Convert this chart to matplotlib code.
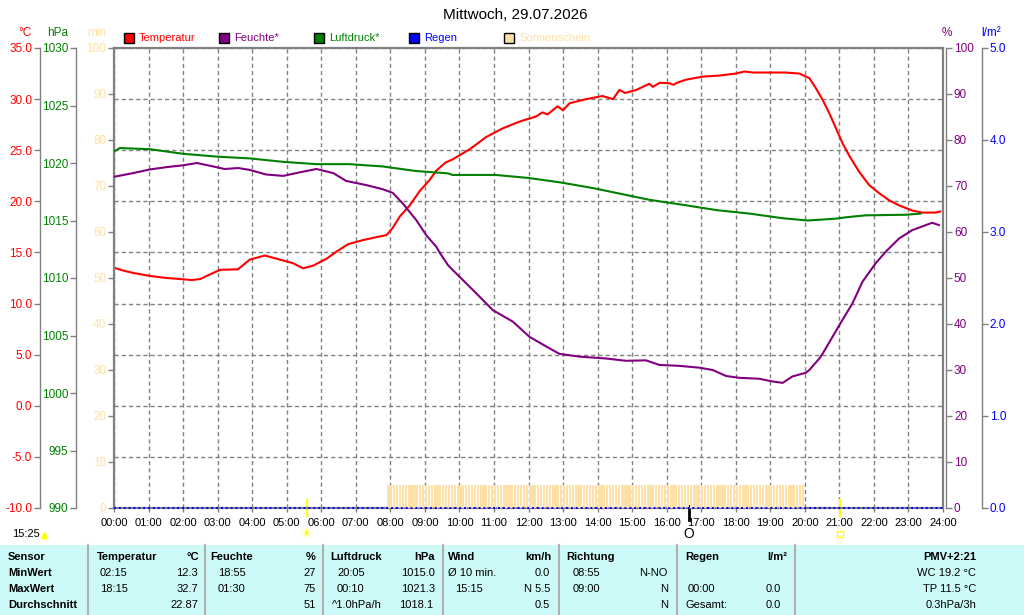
import matplotlib
matplotlib.use("Agg")
import matplotlib.pyplot as plt
import matplotlib.transforms as mtransforms
from matplotlib.patches import Rectangle

plt.rcParams['font.family'] = ['Liberation Sans', 'DejaVu Sans']

# ---- data ----
temp_h = [0.0, 0.3, 0.55, 1.04, 1.52, 1.91, 2.25, 2.5, 2.68, 3.07, 3.59, 3.93, 4.37,
          4.8, 5.18, 5.47, 5.76, 6.16, 6.45, 6.77, 7.2, 7.6, 7.89, 8.07, 8.27, 8.56,
          8.85, 9.14, 9.33, 9.6, 9.8, 10.3, 10.78, 11.26, 11.74, 12.22, 12.4, 12.55,
          12.84, 13.0, 13.19, 13.67, 14.14, 14.45, 14.63, 14.8, 15.12, 15.5, 15.6,
          15.8, 16.08, 16.2, 16.3, 16.56, 17.04, 17.52, 18.0, 18.25, 18.5, 18.97,
          19.45, 19.84, 20.13, 20.32, 20.52, 20.71, 20.9, 21.09, 21.28, 21.57, 21.86,
          22.15, 22.44, 22.73, 23.11, 23.4, 23.78, 23.92]
temp_c = [13.5, 13.2, 13.0, 12.7, 12.5, 12.4, 12.3, 12.4, 12.7, 13.3, 13.35, 14.3, 14.7,
          14.3, 13.95, 13.45, 13.7, 14.4, 15.1, 15.8, 16.2, 16.5, 16.7, 17.4, 18.5, 19.6,
          21.0, 22.1, 23.0, 23.8, 24.1, 25.1, 26.3, 27.15, 27.8, 28.3, 28.7, 28.5,
          29.3, 28.9, 29.6, 30.0, 30.3, 30.0, 30.9, 30.6, 30.9, 31.5, 31.2,
          31.6, 31.55, 31.4, 31.6, 31.9, 32.2, 32.3, 32.5, 32.7, 32.6, 32.6,
          32.6, 32.5, 32.05, 31.07, 29.9, 28.6, 27.15, 25.7, 24.5, 22.9, 21.6,
          20.8, 20.1, 19.6, 19.1, 18.9, 18.9, 19.0]

hum_h = [0.0, 0.55, 1.04, 1.52, 2.0, 2.4, 2.84, 3.2, 3.6, 3.93, 4.4, 4.9, 5.4, 5.86,
         6.35, 6.72, 7.3, 7.78, 8.07, 8.36, 8.75, 9.04, 9.33, 9.43, 9.67, 9.81, 10.39,
         10.97, 11.55, 12.03, 12.61, 12.9, 13.48, 14.25, 14.82, 15.4, 15.79, 16.37,
         16.95, 17.33, 17.72, 18.1, 18.68, 19.07, 19.36, 19.64, 20.03, 20.13, 20.42,
         20.52, 20.8, 21.09, 21.38, 21.67, 22.05, 22.34, 22.73, 23.11, 23.5, 23.69, 23.88]
hum_pct = [72.0, 72.8, 73.6, 74.1, 74.5, 75.0, 74.3, 73.7, 73.9, 73.5, 72.5, 72.2, 73.0, 73.7,
           72.8, 71.1, 70.2, 69.3, 68.5, 66.2, 62.6, 59.3, 56.8, 55.5, 52.8, 51.7, 47.4,
           43.0, 40.5, 37.2, 34.7, 33.5, 32.9, 32.5, 32.0, 32.1, 31.1, 30.9,
           30.5, 30.0, 28.7, 28.3, 28.1, 27.5, 27.2, 28.6, 29.4, 30.0, 32.5,
           33.6, 37.2, 40.9, 44.5, 49.2, 53.2, 55.7, 58.6, 60.4, 61.5, 62.0, 61.5]

pres_h = [0.0, 0.17, 1.04, 1.52, 2.0, 3.0, 3.93, 4.9, 5.86, 6.81, 7.78, 8.75, 9.67, 9.8,
          11.05, 12.0, 12.95, 13.9, 14.86, 15.5, 16.5, 17.45, 18.4, 19.35, 20.08, 20.9,
          21.19, 21.77, 22.92, 23.35]
pres_hpa = [1021.0, 1021.3, 1021.2, 1021.0, 1020.8, 1020.55, 1020.4, 1020.1, 1019.9, 1019.9,
            1019.7, 1019.3, 1019.1, 1018.96, 1018.96, 1018.7, 1018.3, 1017.8, 1017.2,
            1016.8, 1016.35, 1015.9, 1015.6, 1015.2, 1015.0, 1015.16, 1015.28, 1015.45,
            1015.5, 1015.6]

rain_h = [0, 3, 6, 9, 12, 15, 18, 21, 24]
rain_mm = [0.0, 0.0, 0.0, 0.0, 0.0, 0.0, 0.0, 0.0, 0.0]

# sunshine minutes per 5-minute slot, first slot 07:55
sun_first = 7 + 55 / 60
sun_minutes = [5,
               5, 5, 5, 5, 5, 5, 5, 5, 5, 5, 5, 5,   # 08
               5, 5, 5, 5, 5, 5, 5, 5, 5, 5, 5, 5,   # 09
               5, 5, 5, 5, 5, 5, 5, 5, 5, 5, 5, 5,   # 10
               5, 5, 5, 5, 5, 5, 5, 5, 5, 5, 5, 5,   # 11
               5, 5, 5, 5, 5, 5, 5, 5, 5, 5, 5, 5,   # 12
               5, 5, 5, 5, 5, 5, 5, 5, 5, 5, 5, 5,   # 13
               5, 5, 5, 5, 5, 5, 5, 5, 5, 5, 5, 5,   # 14
               5, 5, 5, 5, 5, 5, 5, 5, 5, 5, 5, 5,   # 15
               5, 5, 5, 5, 5, 5, 5, 5, 5, 5, 5, 5,   # 16
               5, 5, 5, 5, 5, 5, 5, 5, 5, 5, 5, 5,   # 17
               5, 5, 5, 5, 5, 5, 5, 5, 5, 5, 5, 5,   # 18
               5, 5, 5, 5, 5, 5, 5, 5, 5, 5, 5, 5]   # 19
sun_x = [sun_first + i * 5 / 60 for i in range(len(sun_minutes))]

hour_labels = ["%02d:00" % h for h in range(25)]
temp_ticks = [-10, -5, 0, 5, 10, 15, 20, 25, 30, 35]
pres_ticks = [990, 995, 1000, 1005, 1010, 1015, 1020, 1025, 1030]
pct_ticks = [0, 10, 20, 30, 40, 50, 60, 70, 80, 90, 100]
rain_ticks = [0, 1, 2, 3, 4, 5]

sunrise, sunset, moon = 5.58, 21.02, 16.64

RED, PURPLE, GREEN, BLUE, SUN = '#FF0000', '#800080', '#008000', '#0000FF', '#FFE0A0'
GRAY = '#808080'

W, H = 1024, 615
def fx(x):
    return x / W
def fy(y):
    return 1 - y / H

fig = plt.figure(figsize=(10.24, 6.15), dpi=100)
ax_t = fig.add_axes([fx(114), fy(508), (943 - 114) / W, (508 - 48) / H])
ax_m = ax_t.twinx()
ax_p = ax_t.twinx()
ax_h = ax_t.twinx()
ax_r = ax_t.twinx()

def side_axis(ax, side, pos, lim, ticks, fmt, color):
    for s in ax.spines.values():
        s.set_visible(False)
    sp = ax.spines[side]
    sp.set_visible(True)
    sp.set_position(('axes', pos))
    sp.set_color(GRAY)
    sp.set_linewidth(1.0)
    if side == 'left':
        ax.yaxis.tick_left()
    else:
        ax.yaxis.tick_right()
    ax.set_ylim(*lim)
    ax.set_yticks(ticks)
    ax.set_yticklabels([fmt % t for t in ticks])
    ax.tick_params(axis='y', direction='out', length=4.5, width=1, color=GRAY,
                   labelcolor=color, labelsize=8.5, pad=1)

side_axis(ax_t, 'left', -0.0893, (-10, 35), temp_ticks, '%.1f', RED)
for s in ['top', 'right', 'bottom']:
    ax_t.spines[s].set_visible(True)
    ax_t.spines[s].set_color(GRAY)
    ax_t.spines[s].set_linewidth(1.6)
side_axis(ax_m, 'left', 0.0, (0, 100), pct_ticks, '%d', SUN)
ax_m.spines['left'].set_linewidth(1.6)
side_axis(ax_p, 'left', -0.0458, (990, 1030), pres_ticks, '%d', GREEN)
side_axis(ax_h, 'right', 1.004, (0, 100), pct_ticks, '%d', PURPLE)
side_axis(ax_r, 'right', 1.047, (0, 5), rain_ticks, '%.1f', BLUE)

ax_t.set_xlim(0, 24)
ax_t.set_xticks(range(25))
ax_t.set_xticklabels(hour_labels)
ax_t.tick_params(axis='x', direction='out', length=3, width=1, color=GRAY,
                 labelsize=8, pad=4)
ax_t.grid(True, color=GRAY, linestyle=(0, (3, 2.2)), linewidth=1)
ax_t.set_axisbelow(True)

ax_m.bar(sun_x, sun_minutes, width=5 / 60 * 0.75, align='edge', color='#FFE0A8',
         linewidth=0, antialiased=False)
ax_t.plot(temp_h, temp_c, color=RED, lw=1.5)
ax_p.plot(pres_h, pres_hpa, color=GREEN, lw=1.5)
ax_h.plot(hum_h, hum_pct, color=PURPLE, lw=1.5)
ax_r.plot(rain_h, rain_mm, color=BLUE, lw=1.4, ls=(0, (1, 1.5)), clip_on=False)

# unit labels and title
fig.text(fx(25), fy(33), '°C', color=RED, ha='center', va='center', fontsize=8.5)
fig.text(fx(58), fy(33), 'hPa', color=GREEN, ha='center', va='center', fontsize=8.5)
fig.text(fx(97), fy(33), 'min', color=SUN, ha='center', va='center', fontsize=8.5)
fig.text(fx(947), fy(33), '%', color=PURPLE, ha='center', va='center', fontsize=8.5)
fig.text(fx(991), fy(33), 'l/m²', color=BLUE, ha='center', va='center', fontsize=8.5)
fig.text(fx(515), fy(15), 'Mittwoch, 29.07.2026', ha='center', va='center', fontsize=11)

legend = [('Temperatur', RED, 124), ('Feuchte*', PURPLE, 219), ('Luftdruck*', GREEN, 314),
          ('Regen', BLUE, 409), ('Sonnenschein', SUN, 504)]
for name, col, x in legend:
    fig.add_artist(Rectangle((fx(x), fy(43)), 10 / W, 10 / H, transform=fig.transFigure,
                             facecolor=col, edgecolor='black', lw=1))
    fig.text(fx(x + 15), fy(38), name, color=col, ha='left', va='center', fontsize=8)

# sun / moon markers under the axis
trans = mtransforms.blended_transform_factory(ax_t.transData, fig.transFigure)
for t in (sunrise, sunset):
    ax_t.plot([t, t], [fy(500), fy(516)], transform=trans, color='#FFFF00', lw=1.6,
              clip_on=False)
ax_t.plot([moon, moon], [fy(506), fy(520)], transform=trans, color='black', lw=2,
          clip_on=False)
ax_t.text(sunrise, fy(535), '\u2600', transform=trans, color='#FFFF00', ha='center',
          va='center', fontsize=9, family='DejaVu Sans')
ax_t.plot([sunset], [fy(534)], transform=trans, marker='s', ms=5, mfc='none',
          mec='#FFFF00', clip_on=False)
ax_t.text(moon, fy(534), 'O', transform=trans, ha='center', va='center', fontsize=10)
fig.text(fx(12), fy(534), '15:25', ha='left', va='center', fontsize=8)
fig.add_artist(plt.Line2D([fx(44)], [fy(535)], marker='^', ms=5, color='#FFFF00',
                          transform=fig.transFigure))

# summary table
fig.add_artist(Rectangle((0, 0), 1, fy(545), transform=fig.transFigure,
                         facecolor='#CCFAF8', edgecolor='none'))
for x in [88, 205, 323, 443, 559, 677, 795]:
    fig.add_artist(plt.Line2D([fx(x), fx(x)], [0, fy(545)], color='#B0B0B0', lw=1.5,
                              transform=fig.transFigure))

rows_y = [557, 573, 589, 605]
cells = [
    (0, 8, 'Sensor', 'left', True), (0, 97, 'Temperatur', 'left', True),
    (0, 199, '°C', 'right', True), (0, 210, 'Feuchte', 'left', True),
    (0, 316, '%', 'right', True), (0, 330, 'Luftdruck', 'left', True),
    (0, 435, 'hPa', 'right', True), (0, 448, 'Wind', 'left', True),
    (0, 551, 'km/h', 'right', True), (0, 566, 'Richtung', 'left', True),
    (0, 685, 'Regen', 'left', True), (0, 787, 'l/m²', 'right', True),
    (0, 976, 'PMV+2:21', 'right', True),
    (1, 8, 'MinWert', 'left', True), (1, 100, '02:15', 'left', False),
    (1, 198, '12.3', 'right', False), (1, 218, '18:55', 'left', False),
    (1, 316, '27', 'right', False), (1, 337, '20:05', 'left', False),
    (1, 435, '1015.0', 'right', False), (1, 448, 'Ø 10 min.', 'left', False),
    (1, 550, '0.0', 'right', False), (1, 573, '08:55', 'left', False),
    (1, 668, 'N-NO', 'right', False), (1, 976, 'WC 19.2 °C', 'right', False),
    (2, 8, 'MaxWert', 'left', True), (2, 100, '18:15', 'left', False),
    (2, 198, '32.7', 'right', False), (2, 218, '01:30', 'left', False),
    (2, 316, '75', 'right', False), (2, 337, '00:10', 'left', False),
    (2, 435, '1021.3', 'right', False), (2, 455, '15:15', 'left', False),
    (2, 550, 'N 5.5', 'right', False), (2, 573, '09:00', 'left', False),
    (2, 668, 'N', 'right', False), (2, 688, '00:00', 'left', False),
    (2, 781, '0.0', 'right', False), (2, 976, 'TP 11.5 °C', 'right', False),
    (3, 8, 'Durchschnitt', 'left', True), (3, 198, '22.87', 'right', False),
    (3, 316, '51', 'right', False), (3, 332, '^1.0hPa/h', 'left', False),
    (3, 433, '1018.1', 'right', False), (3, 550, '0.5', 'right', False),
    (3, 668, 'N', 'right', False), (3, 685, 'Gesamt:', 'left', False),
    (3, 781, '0.0', 'right', False), (3, 976, '0.3hPa/3h', 'right', False),
]
for r, x, txt, ha, bold in cells:
    fig.text(fx(x), fy(rows_y[r]), txt, ha=ha, va='center', fontsize=8,
             fontweight='bold' if bold else 'normal')

fig.savefig('out.png', dpi=100)
